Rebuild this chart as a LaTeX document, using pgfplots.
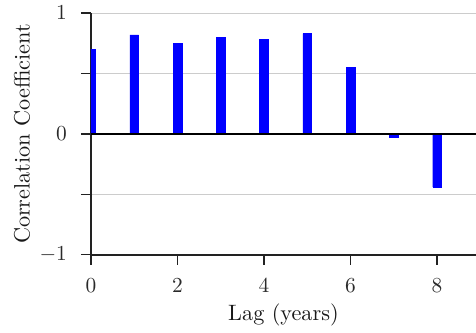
\documentclass[border=0pt]{standalone}
\usepackage{pgfplots}
\pgfplotsset{compat=1.18}
\definecolor{axisgray}{HTML}{222222}
\definecolor{gridgray}{HTML}{CCCCCC}
\definecolor{textgray}{HTML}{2A2A2A}
\begin{document}
\begin{tikzpicture}
\begin{axis}[
  scale only axis,
  width=180pt, height=113pt,
  xmin=0, xmax=8.9,
  ymin=-1, ymax=1,
  axis x line*=bottom,
  axis y line*=left,
  axis line style={axisgray, line width=0.8pt},
  every tick/.style={axisgray, line width=0.6pt},
  tick align=outside,
  major tick length=4.7pt,
  xtick={0,2,4,6,8},
  ytick={-1,-0.5,0,0.5,1},
  yticklabels={$-1$,,$0$,,$1$},
  ymajorgrids,
  grid style={gridgray, line width=0.5pt},
  tick label style={text=textgray, font=\fontsize{10.4}{12}\selectfont},
  xticklabel style={yshift=-3pt},
  yticklabel style={xshift=-3pt},
  xlabel={Lag (years)},
  ylabel={Correlation Coefficient},
  label style={text=black!90, font=\fontsize{10.4}{12}\selectfont},
  xlabel style={at={(axis description cs:0.5,-0.248)}, anchor=center},
  ylabel style={at={(axis description cs:-0.179,0.5)}, anchor=center},
  clip=true,
]
\addplot[ybar, bar width=0.2, fill=blue, draw=blue, line width=0.2pt, bar shift=0pt]
  coordinates {(0,0.70) (1,0.82) (2,0.75) (3,0.80) (4,0.78) (5,0.83) (6,0.55) (7,-0.03) (8,-0.44)};
\addplot[black, line width=0.9pt] coordinates {(0,0) (8.9,0)};
\end{axis}
\pgfresetboundingbox
\useasboundingbox ([xshift=-42.5pt, yshift=-36.4pt]current axis.south west) rectangle ([yshift=6.1pt]current axis.north east);
\end{tikzpicture}
\end{document}
